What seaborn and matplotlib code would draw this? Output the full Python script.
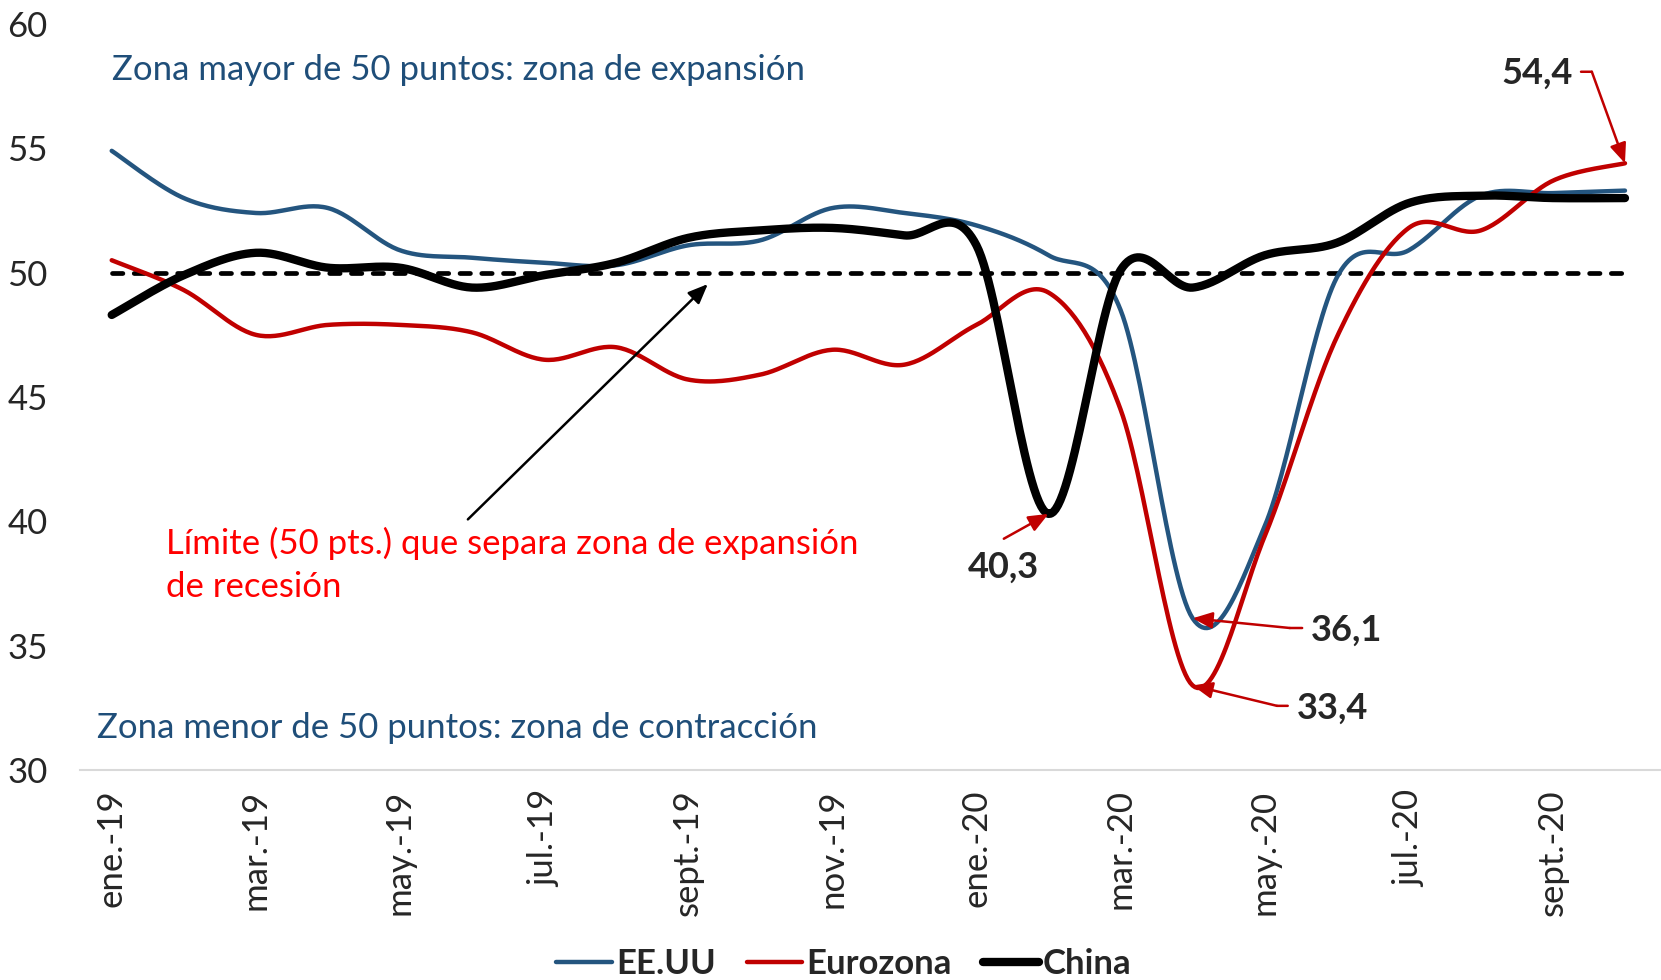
import numpy as np
import pandas as pd
import matplotlib.pyplot as plt
import seaborn as sns

# PMI manufacturero (ene-19 a oct-20)
meses = ["ene.-19", "feb.-19", "mar.-19", "abr.-19", "may.-19", "jun.-19",
         "jul.-19", "ago.-19", "sept.-19", "oct.-19", "nov.-19", "dic.-19",
         "ene.-20", "feb.-20", "mar.-20", "abr.-20", "may.-20", "jun.-20",
         "jul.-20", "ago.-20", "sept.-20", "oct.-20"]
eeuu = [54.9, 53.0, 52.4, 52.6, 50.9, 50.6, 50.4, 50.3, 51.1, 51.3, 52.6, 52.4,
        51.9, 50.7, 48.5, 36.1, 39.8, 49.8, 50.9, 53.1, 53.2, 53.3]
eurozona = [50.5, 49.3, 47.5, 47.9, 47.9, 47.6, 46.5, 47.0, 45.7, 45.9, 46.9, 46.3,
            47.9, 49.2, 44.5, 33.4, 39.4, 47.4, 51.8, 51.7, 53.7, 54.4]
china = [48.3, 49.9, 50.8, 50.2, 50.2, 49.4, 49.9, 50.4, 51.4, 51.7, 51.8, 51.5,
         51.1, 40.3, 50.1, 49.4, 50.7, 51.2, 52.8, 53.1, 53.0, 53.0]
limite = [50.0] * len(meses)

AZUL = "#24557F"
ROJO = "#C00000"


def suavizar(valores, n=30):
    # curva suavizada tipo Excel (bezier / catmull-rom)
    pts = np.column_stack([np.arange(len(valores)), valores]).astype(float)
    p = np.vstack([pts[0], pts, pts[-1]])
    tramos = []
    for i in range(len(pts) - 1):
        p0, p1, p2, p3 = p[i], p[i + 1], p[i + 2], p[i + 3]
        c1 = p1 + (p2 - p0) / 6
        c2 = p2 - (p3 - p1) / 6
        t = np.linspace(0, 1, n, endpoint=(i == len(pts) - 2))[:, None]
        tramos.append((1 - t) ** 3 * p1 + 3 * (1 - t) ** 2 * t * c1
                      + 3 * (1 - t) * t ** 2 * c2 + t ** 3 * p2)
    return np.vstack(tramos)


sns.set_style("white")
plt.rcParams["font.family"] = ["Lato", "DejaVu Sans"]

fig = plt.figure(figsize=(16.61, 9.8), dpi=100)
ax = fig.add_axes([0.048, 0.2143, 0.952, 0.7612])

# línea límite de 50 puntos
sns.lineplot(x=np.arange(len(limite)), y=limite, ax=ax, color="black",
             linewidth=3.4, linestyle=(0, (2.2, 2.4)), dash_capstyle="round",
             legend=False)

series = [("EE.UU", eeuu, AZUL, 3.2), ("Eurozona", eurozona, ROJO, 3.2),
          ("China", china, "black", 6.0)]
for nombre, vals, color, lw in series:
    curva = suavizar(vals)
    sns.lineplot(x=curva[:, 0], y=curva[:, 1], ax=ax, color=color, linewidth=lw,
                 label=nombre, sort=False, estimator=None,
                 solid_capstyle="round")

ax.set_xlim(-0.444, 21.5)
ax.set_ylim(30, 60)
ax.set_yticks(range(30, 61, 5))
ax.set_xticks(range(0, len(meses), 2))
ax.set_xticklabels(meses[::2], rotation=90)
ax.tick_params(axis="y", length=0, pad=23, labelsize=25)
ax.tick_params(axis="x", length=0, pad=14, labelsize=25)
ax.set_xlabel("")
ax.set_ylabel("")
for lado in ["left", "top", "right"]:
    ax.spines[lado].set_visible(False)
ax.spines["bottom"].set_color("#D9D9D9")
ax.spines["bottom"].set_linewidth(1.5)

# textos de zonas
ax.text(0.01, 58.15, "Zona mayor de 50 puntos: zona de expansión", color="#1F4E79",
        fontsize=25, va="center", ha="left")
ax.text(-0.21, 31.7, "Zona menor de 50 puntos: zona de contracción", color="#1F4E79",
        fontsize=25, va="center", ha="left")
ax.text(0.76, 38.25, "Límite (50 pts.) que separa zona de expansión\nde recesión",
        color="#FF0000", fontsize=25, va="center", ha="left", linespacing=1.45)
ax.annotate("", xy=(8.3, 49.62), xytext=(4.915, 40.0),
            arrowprops=dict(arrowstyle="-|>,head_length=0.6,head_width=0.25",
                            color="black", lw=1.8, mutation_scale=20))

# etiquetas de valores extremos
flecha = dict(arrowstyle="-|>,head_length=0.6,head_width=0.25", color=ROJO,
              lw=1.8, mutation_scale=20, shrinkA=0, shrinkB=0)
tramo = dict(arrowstyle="-", color=ROJO, lw=1.8, shrinkA=0, shrinkB=0)


def etiqueta(valor, xy, texto_xy, esquina, inicio, ha):
    ax.text(texto_xy[0], texto_xy[1], f"{valor:.1f}".replace(".", ","), ha=ha,
            va="center", fontsize=26, fontweight="bold")
    ax.annotate("", xy=esquina, xytext=inicio, arrowprops=tramo)
    ax.annotate("", xy=xy, xytext=esquina, arrowprops=flecha)


i_max = int(np.argmax(eurozona))
etiqueta(eurozona[i_max], (i_max, eurozona[i_max]), (20.28, 58.0),
         (20.54, 58.08), (20.39, 58.08), "right")

i_us = int(np.argmin(eeuu))
etiqueta(eeuu[i_us], (i_us, eeuu[i_us]), (16.64, 35.63),
         (16.35, 35.71), (16.52, 35.71), "left")

i_ez = int(np.argmin(eurozona))
etiqueta(eurozona[i_ez], (i_ez, eurozona[i_ez]), (16.45, 32.5),
         (16.17, 32.58), (16.32, 32.58), "left")

i_ch = int(np.argmin(china))
ax.text(12.38, 38.17, f"{china[i_ch]:.1f}".replace(".", ","), ha="center", va="center",
        fontsize=26, fontweight="bold")
ax.annotate("", xy=(i_ch, china[i_ch]), xytext=(12.38, 39.3), arrowprops=flecha)

ax.legend(loc="center", bbox_to_anchor=(0.508, 0.016), bbox_transform=fig.transFigure,
          ncol=3, frameon=False, prop={"weight": "bold", "size": 25},
          handlelength=1.6, handletextpad=0.12, columnspacing=0.9)

fig.savefig("out.png", dpi=100)
plt.close(fig)
